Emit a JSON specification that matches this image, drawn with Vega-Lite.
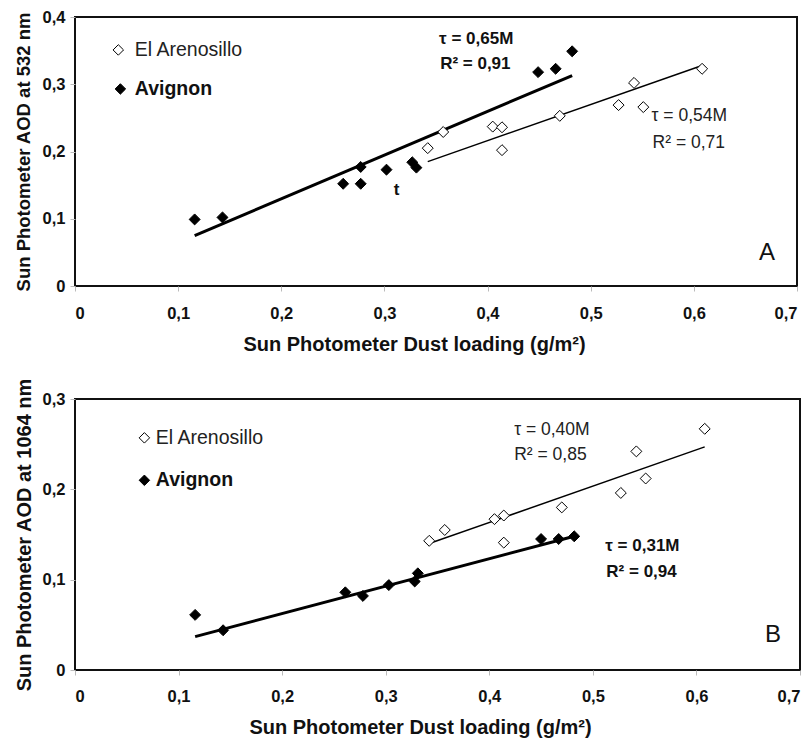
{
  "$schema": "https://vega.github.io/schema/vega-lite/v6.json",
  "background": "white",
  "padding": {"left": 13, "top": 8, "right": 0, "bottom": 5},
  "bounds": "flush",
  "spacing": 113,
  "config": {
    "font": "Liberation Sans",
    "view": {"stroke": "#111111", "strokeWidth": 2},
    "axis": {
      "grid": false,
      "domain": false,
      "ticks": true,
      "tickColor": "#bbbbbb",
      "tickSize": 5,
      "labelFont": "Liberation Sans",
      "labelFontWeight": "bold",
      "labelFontSize": 16.5,
      "labelColor": "#111111",
      "titleFont": "Liberation Sans",
      "titleFontWeight": "bold",
      "titleFontSize": 20,
      "titleColor": "#111111"
    }
  },
  "datasets": {
    "points": [
      {"panel": "A", "site": "Avignon", "dust": 0.116, "aod": 0.099},
      {"panel": "A", "site": "Avignon", "dust": 0.143, "aod": 0.102},
      {"panel": "A", "site": "Avignon", "dust": 0.260, "aod": 0.152},
      {"panel": "A", "site": "Avignon", "dust": 0.277, "aod": 0.177},
      {"panel": "A", "site": "Avignon", "dust": 0.277, "aod": 0.152},
      {"panel": "A", "site": "Avignon", "dust": 0.302, "aod": 0.173},
      {"panel": "A", "site": "Avignon", "dust": 0.327, "aod": 0.184},
      {"panel": "A", "site": "Avignon", "dust": 0.331, "aod": 0.176},
      {"panel": "A", "site": "Avignon", "dust": 0.449, "aod": 0.318},
      {"panel": "A", "site": "Avignon", "dust": 0.466, "aod": 0.323},
      {"panel": "A", "site": "Avignon", "dust": 0.482, "aod": 0.349},
      {"panel": "A", "site": "El Arenosillo", "dust": 0.342, "aod": 0.205},
      {"panel": "A", "site": "El Arenosillo", "dust": 0.357, "aod": 0.229},
      {"panel": "A", "site": "El Arenosillo", "dust": 0.405, "aod": 0.237},
      {"panel": "A", "site": "El Arenosillo", "dust": 0.414, "aod": 0.236},
      {"panel": "A", "site": "El Arenosillo", "dust": 0.414, "aod": 0.202},
      {"panel": "A", "site": "El Arenosillo", "dust": 0.470, "aod": 0.253},
      {"panel": "A", "site": "El Arenosillo", "dust": 0.527, "aod": 0.269},
      {"panel": "A", "site": "El Arenosillo", "dust": 0.542, "aod": 0.302},
      {"panel": "A", "site": "El Arenosillo", "dust": 0.551, "aod": 0.266},
      {"panel": "A", "site": "El Arenosillo", "dust": 0.608, "aod": 0.323},
      {"panel": "B", "site": "Avignon", "dust": 0.116, "aod": 0.061},
      {"panel": "B", "site": "Avignon", "dust": 0.143, "aod": 0.044},
      {"panel": "B", "site": "Avignon", "dust": 0.261, "aod": 0.086},
      {"panel": "B", "site": "Avignon", "dust": 0.278, "aod": 0.082},
      {"panel": "B", "site": "Avignon", "dust": 0.303, "aod": 0.094},
      {"panel": "B", "site": "Avignon", "dust": 0.328, "aod": 0.098},
      {"panel": "B", "site": "Avignon", "dust": 0.331, "aod": 0.107},
      {"panel": "B", "site": "Avignon", "dust": 0.450, "aod": 0.145},
      {"panel": "B", "site": "Avignon", "dust": 0.467, "aod": 0.145},
      {"panel": "B", "site": "Avignon", "dust": 0.482, "aod": 0.148},
      {"panel": "B", "site": "El Arenosillo", "dust": 0.342, "aod": 0.143},
      {"panel": "B", "site": "El Arenosillo", "dust": 0.357, "aod": 0.155},
      {"panel": "B", "site": "El Arenosillo", "dust": 0.405, "aod": 0.167},
      {"panel": "B", "site": "El Arenosillo", "dust": 0.414, "aod": 0.171},
      {"panel": "B", "site": "El Arenosillo", "dust": 0.414, "aod": 0.141},
      {"panel": "B", "site": "El Arenosillo", "dust": 0.470, "aod": 0.180},
      {"panel": "B", "site": "El Arenosillo", "dust": 0.527, "aod": 0.196},
      {"panel": "B", "site": "El Arenosillo", "dust": 0.542, "aod": 0.242},
      {"panel": "B", "site": "El Arenosillo", "dust": 0.551, "aod": 0.212},
      {"panel": "B", "site": "El Arenosillo", "dust": 0.608, "aod": 0.267}
    ],
    "fits": [
      {"panel": "A", "site": "Avignon", "dust": 0.116, "aod": 0.075},
      {"panel": "A", "site": "Avignon", "dust": 0.482, "aod": 0.313},
      {"panel": "A", "site": "El Arenosillo", "dust": 0.342, "aod": 0.185},
      {"panel": "A", "site": "El Arenosillo", "dust": 0.608, "aod": 0.328},
      {"panel": "B", "site": "Avignon", "dust": 0.116, "aod": 0.037},
      {"panel": "B", "site": "Avignon", "dust": 0.482, "aod": 0.148},
      {"panel": "B", "site": "El Arenosillo", "dust": 0.342, "aod": 0.140},
      {"panel": "B", "site": "El Arenosillo", "dust": 0.608, "aod": 0.247}
    ],
    "legend": [
      {"panel": "A", "site": "El Arenosillo", "dust": 0.042, "aod": 0.351, "textDust": 0.058, "text": "El Arenosillo"},
      {"panel": "A", "site": "Avignon", "dust": 0.044, "aod": 0.293, "textDust": 0.058, "text": "Avignon"},
      {"panel": "B", "site": "El Arenosillo", "dust": 0.067, "aod": 0.257, "textDust": 0.078, "text": "El Arenosillo"},
      {"panel": "B", "site": "Avignon", "dust": 0.067, "aod": 0.210, "textDust": 0.078, "text": "Avignon"}
    ],
    "notes": [
      {"panel": "A", "site": "Avignon", "dust": 0.353, "aod": 0.367, "text": "τ = 0,65M"},
      {"panel": "A", "site": "Avignon", "dust": 0.354, "aod": 0.330, "text": "R² = 0,91"},
      {"panel": "A", "site": "El Arenosillo", "dust": 0.559, "aod": 0.253, "text": "τ = 0,54M"},
      {"panel": "A", "site": "El Arenosillo", "dust": 0.560, "aod": 0.213, "text": "R² = 0,71"},
      {"panel": "A", "site": "Avignon", "dust": 0.309, "aod": 0.143, "text": "t"},
      {"panel": "B", "site": "El Arenosillo", "dust": 0.424, "aod": 0.266, "text": "τ = 0,40M"},
      {"panel": "B", "site": "El Arenosillo", "dust": 0.424, "aod": 0.238, "text": "R² = 0,85"},
      {"panel": "B", "site": "Avignon", "dust": 0.512, "aod": 0.137, "text": "τ = 0,31M"},
      {"panel": "B", "site": "Avignon", "dust": 0.513, "aod": 0.109, "text": "R² = 0,94"}
    ],
    "letters": [
      {"panel": "A", "dust": 0.671, "aod": 0.049, "text": "A"},
      {"panel": "B", "dust": 0.674, "aod": 0.039, "text": "B"}
    ]
  },
  "vconcat": [
    {
      "width": 722,
      "height": 269,
      "encoding": {
        "x": {"field": "dust", "type": "quantitative", "scale": {"domain": [0, 0.7]},
          "axis": {"title": "Sun Photometer Dust loading (g/m²)", "titleX": 339, "values": [0, 0.1, 0.2, 0.3, 0.4, 0.5, 0.6, 0.7], "labelExpr": "replace(format(datum.value, '.1~f'), '.', ',')", "labelPadding": 14, "titlePadding": 13}},
        "y": {"field": "aod", "type": "quantitative", "scale": {"domain": [0, 0.4]},
          "axis": {"title": "Sun Photometer AOD at 532 nm", "titleFontSize": 18.5, "values": [0, 0.1, 0.2, 0.3, 0.4], "labelExpr": "replace(format(datum.value, '.1~f'), '.', ',')", "labelPadding": 5, "titlePadding": 9}}
      },
      "layer": [
        {
          "data": {"name": "fits"},
          "transform": [{"filter": "datum.panel === 'A'"}],
          "mark": {"type": "line", "color": "black"},
          "encoding": {
            "detail": {"field": "site"},
            "strokeWidth": {"field": "site", "type": "nominal", "scale": {"domain": ["El Arenosillo", "Avignon"], "range": [1.5, 3]}, "legend": null}
          }
        },
        {
          "data": {"name": "points"},
          "transform": [{"filter": "datum.panel === 'A'"}],
          "mark": {"type": "point", "shape": "diamond", "filled": true, "size": 120, "stroke": "black", "strokeWidth": 1, "opacity": 1},
          "encoding": {
            "fill": {"field": "site", "type": "nominal", "scale": {"domain": ["El Arenosillo", "Avignon"], "range": ["white", "black"]}, "legend": null}
          }
        },
        {
          "data": {"name": "legend"},
          "transform": [{"filter": "datum.panel === 'A'"}],
          "mark": {"type": "point", "shape": "diamond", "filled": true, "size": 110, "stroke": "black", "strokeWidth": 1, "opacity": 1},
          "encoding": {
            "fill": {"field": "site", "type": "nominal", "scale": {"domain": ["El Arenosillo", "Avignon"], "range": ["white", "black"]}, "legend": null}
          }
        },
        {
          "data": {"name": "legend"},
          "transform": [{"filter": "datum.panel === 'A' && datum.site === 'Avignon'"}],
          "mark": {"type": "text", "align": "left", "baseline": "middle", "fontSize": 19.5, "fontWeight": "bold", "color": "#111111"},
          "encoding": {"x": {"field": "textDust", "type": "quantitative"}, "text": {"field": "text"}}
        },
        {
          "data": {"name": "legend"},
          "transform": [{"filter": "datum.panel === 'A' && datum.site === 'El Arenosillo'"}],
          "mark": {"type": "text", "align": "left", "baseline": "middle", "fontSize": 19.5, "color": "#222222"},
          "encoding": {"x": {"field": "textDust", "type": "quantitative"}, "text": {"field": "text"}}
        },
        {
          "data": {"name": "notes"},
          "transform": [{"filter": "datum.panel === 'A' && datum.site === 'Avignon'"}],
          "mark": {"type": "text", "align": "left", "baseline": "middle", "fontSize": 17, "fontWeight": "bold", "color": "#111111"},
          "encoding": {"text": {"field": "text"}}
        },
        {
          "data": {"name": "notes"},
          "transform": [{"filter": "datum.panel === 'A' && datum.site === 'El Arenosillo'"}],
          "mark": {"type": "text", "align": "left", "baseline": "middle", "fontSize": 17.5, "color": "#222222"},
          "encoding": {"text": {"field": "text"}}
        },
        {
          "data": {"name": "letters"},
          "transform": [{"filter": "datum.panel === 'A'"}],
          "mark": {"type": "text", "align": "center", "baseline": "middle", "fontSize": 24, "color": "#111111"},
          "encoding": {"text": {"field": "text"}}
        }
      ]
    },
    {
      "width": 725,
      "height": 271,
      "encoding": {
        "x": {"field": "dust", "type": "quantitative", "scale": {"domain": [0, 0.7]},
          "axis": {"title": "Sun Photometer Dust loading (g/m²)", "titleX": 345, "values": [0, 0.1, 0.2, 0.3, 0.4, 0.5, 0.6, 0.7], "labelExpr": "replace(format(datum.value, '.1~f'), '.', ',')", "labelPadding": 13, "titlePadding": 13}},
        "y": {"field": "aod", "type": "quantitative", "scale": {"domain": [0, 0.3]},
          "axis": {"title": "Sun Photometer AOD at 1064 nm", "values": [0, 0.1, 0.2, 0.3], "labelExpr": "replace(format(datum.value, '.1~f'), '.', ',')", "labelPadding": 5, "titlePadding": 8}}
      },
      "layer": [
        {
          "data": {"name": "fits"},
          "transform": [{"filter": "datum.panel === 'B'"}],
          "mark": {"type": "line", "color": "black"},
          "encoding": {
            "detail": {"field": "site"},
            "strokeWidth": {"field": "site", "type": "nominal", "scale": {"domain": ["El Arenosillo", "Avignon"], "range": [1.5, 3]}, "legend": null}
          }
        },
        {
          "data": {"name": "points"},
          "transform": [{"filter": "datum.panel === 'B'"}],
          "mark": {"type": "point", "shape": "diamond", "filled": true, "size": 120, "stroke": "black", "strokeWidth": 1, "opacity": 1},
          "encoding": {
            "fill": {"field": "site", "type": "nominal", "scale": {"domain": ["El Arenosillo", "Avignon"], "range": ["white", "black"]}, "legend": null}
          }
        },
        {
          "data": {"name": "legend"},
          "transform": [{"filter": "datum.panel === 'B'"}],
          "mark": {"type": "point", "shape": "diamond", "filled": true, "size": 110, "stroke": "black", "strokeWidth": 1, "opacity": 1},
          "encoding": {
            "fill": {"field": "site", "type": "nominal", "scale": {"domain": ["El Arenosillo", "Avignon"], "range": ["white", "black"]}, "legend": null}
          }
        },
        {
          "data": {"name": "legend"},
          "transform": [{"filter": "datum.panel === 'B' && datum.site === 'Avignon'"}],
          "mark": {"type": "text", "align": "left", "baseline": "middle", "fontSize": 19.5, "fontWeight": "bold", "color": "#111111"},
          "encoding": {"x": {"field": "textDust", "type": "quantitative"}, "text": {"field": "text"}}
        },
        {
          "data": {"name": "legend"},
          "transform": [{"filter": "datum.panel === 'B' && datum.site === 'El Arenosillo'"}],
          "mark": {"type": "text", "align": "left", "baseline": "middle", "fontSize": 19.5, "color": "#222222"},
          "encoding": {"x": {"field": "textDust", "type": "quantitative"}, "text": {"field": "text"}}
        },
        {
          "data": {"name": "notes"},
          "transform": [{"filter": "datum.panel === 'B' && datum.site === 'Avignon'"}],
          "mark": {"type": "text", "align": "left", "baseline": "middle", "fontSize": 17, "fontWeight": "bold", "color": "#111111"},
          "encoding": {"text": {"field": "text"}}
        },
        {
          "data": {"name": "notes"},
          "transform": [{"filter": "datum.panel === 'B' && datum.site === 'El Arenosillo'"}],
          "mark": {"type": "text", "align": "left", "baseline": "middle", "fontSize": 17.5, "color": "#222222"},
          "encoding": {"text": {"field": "text"}}
        },
        {
          "data": {"name": "letters"},
          "transform": [{"filter": "datum.panel === 'B'"}],
          "mark": {"type": "text", "align": "center", "baseline": "middle", "fontSize": 24, "color": "#111111"},
          "encoding": {"text": {"field": "text"}}
        }
      ]
    }
  ]
}
